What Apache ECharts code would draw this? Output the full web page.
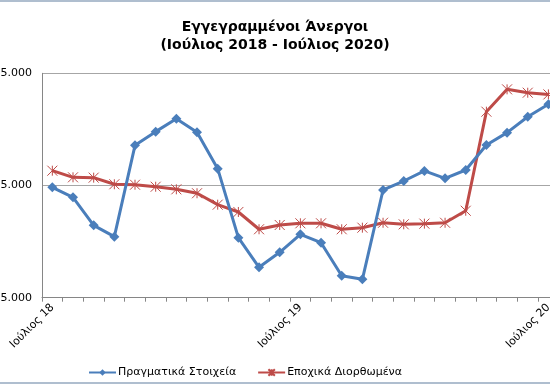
<!DOCTYPE html>
<html>
<head>
<meta charset="utf-8">
<script src="https://cdn.jsdelivr.net/npm/echarts@6/dist/echarts.min.js"></script>
<style>
html,body{margin:0;padding:0;background:#fff;}
#chart{width:550px;height:388px;}
</style>
</head>
<body>
<div id="chart"></div>
<script>
const categories = [
  'Ιούλιος 18','Αύγουστος 18','Σεπτέμβριος 18','Οκτώβριος 18','Νοέμβριος 18','Δεκέμβριος 18',
  'Ιανουάριος 19','Φεβρουάριος 19','Μάρτιος 19','Απρίλιος 19','Μάιος 19','Ιούνιος 19',
  'Ιούλιος 19','Αύγουστος 19','Σεπτέμβριος 19','Οκτώβριος 19','Νοέμβριος 19','Δεκέμβριος 19',
  'Ιανουάριος 20','Φεβρουάριος 20','Μάρτιος 20','Απρίλιος 20','Μάιος 20','Ιούνιος 20',
  'Ιούλιος 20'
];
const actualValues = [
  923400, 914500, 889500, 879400, 960800, 973000,
  984500, 972400, 940000, 878500, 852100, 865500,
  881500, 874000, 844600, 841400, 921000, 929000,
  938000, 931400, 938800, 961100, 972100, 986300,
  997400
];
const seasonalValues = [
  938200, 932300, 932000, 926100, 925700, 923900,
  921600, 918100, 907900, 901400, 886000, 889800,
  891300, 891300, 886000, 887400, 891800, 890400,
  891000, 891800, 902500, 990800, 1010700, 1007700,
  1006200
];
const seriesNames = ['Πραγματικά Στοιχεία', 'Εποχικά Διορθωμένα'];
const titleText = 'Εγγεγραμμένοι Άνεργοι\n(Ιούλιος 2018 - Ιούλιος 2020)';
const yMin = 825000, yMax = 1025000, yStep = 100000;

function fmt(v){ return String(v).replace(/\B(?=(\d{3})+(?!\d))/g, '.'); }

const FONT = 'DejaVu Sans';
const chart = echarts.init(document.getElementById('chart'), null, {renderer:'canvas'});
const starPath = 'path://M0,0L10,10M10,0L0,10M5,0L5,10';

chart.setOption({
  animation: false,
  backgroundColor: '#ffffff',
  title: {
    text: titleText,
    left: 'center',
    top: 13,
    textStyle: {fontFamily: FONT, fontSize: 14, fontWeight: 'bold', color: '#000', lineHeight: 18}
  },
  legend: {
    left: 88,
    top: 367,
    padding: 0,
    itemWidth: 27,
    itemHeight: 8,
    itemGap: 21,
    textStyle: {fontFamily: FONT, fontSize: 11, color: '#000', padding: [0, 0, 0, -3]},
    data: seriesNames
  },
  grid: {left: 42, top: 73.3, width: 516.75, height: 224.4, containLabel: false, outerBoundsMode: 'none'},
  xAxis: {
    type: 'category',
    data: categories,
    boundaryGap: true,
    axisLine: {lineStyle: {color: '#868686', width: 1}},
    axisTick: {show: true, interval: 0, length: 4, alignWithLabel: false, lineStyle: {color: '#868686'}},
    axisLabel: {interval: 11, rotate: 45, margin: 8, fontFamily: FONT, fontSize: 11, color: '#000'},
    splitLine: {show: false}
  },
  yAxis: {
    type: 'value',
    min: yMin,
    max: yMax,
    interval: yStep,
    axisLine: {show: true, lineStyle: {color: '#868686', width: 1}},
    axisTick: {show: false},
    axisLabel: {margin: 10, fontFamily: FONT, fontSize: 11, color: '#000', formatter: fmt},
    splitLine: {show: true, lineStyle: {color: '#A6A6A6', width: 1}}
  },
  graphic: [
    {type: 'line', shape: {x1: 0, y1: 1, x2: 550, y2: 1}, style: {stroke: '#95A9BF', lineWidth: 1.5}, silent: true},
    {type: 'line', shape: {x1: 0, y1: 383, x2: 550, y2: 383}, style: {stroke: '#95A9BF', lineWidth: 1.5}, silent: true}
  ],
  series: [
    {
      name: seriesNames[0],
      type: 'line',
      data: actualValues,
      symbol: 'diamond',
      symbolSize: 10,
      showAllSymbol: true,
      lineStyle: {color: '#4A7EBB', width: 3},
      itemStyle: {color: '#4A7EBB'},
      z: 3
    },
    {
      name: seriesNames[1],
      type: 'line',
      data: seasonalValues,
      symbol: starPath,
      symbolSize: 10,
      showAllSymbol: true,
      lineStyle: {color: '#BE4B48', width: 3},
      itemStyle: {color: '#BE4B48', borderColor: '#BE4B48', borderWidth: 1},
      z: 2
    }
  ]
});
</script>
</body>
</html>
